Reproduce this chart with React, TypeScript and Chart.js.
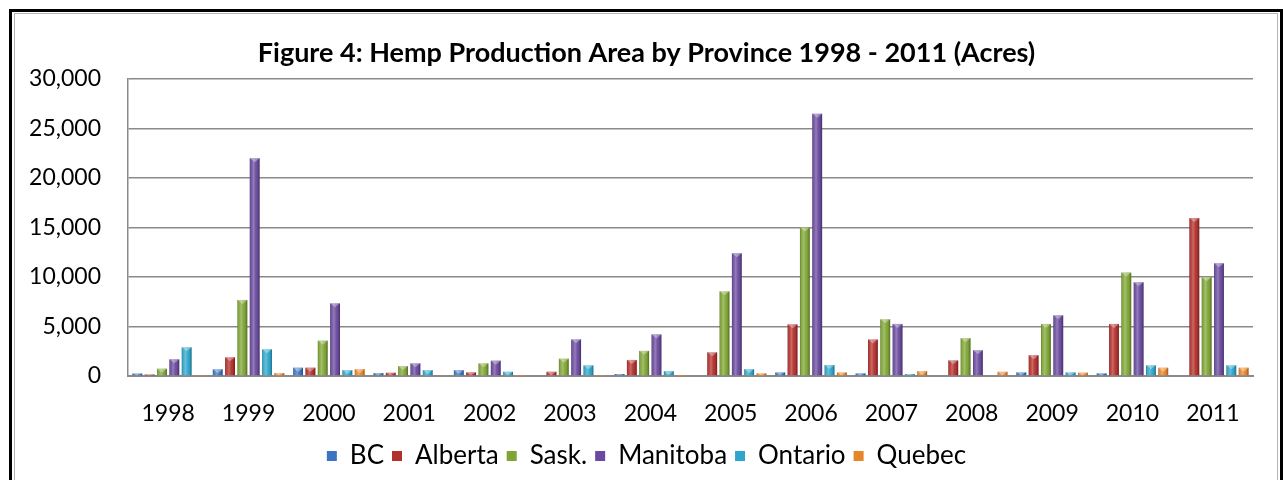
import React, { useEffect, useRef } from "react";
import { Chart, registerables } from "chart.js";

Chart.register(...registerables);

const years = ["1998", "1999", "2000", "2001", "2002", "2003", "2004", "2005", "2006", "2007", "2008", "2009", "2010", "2011"];
const provinces = ["BC", "Alberta", "Sask.", "Manitoba", "Ontario", "Quebec"];
const bc = [250, 680, 840, 300, 600, 0, 200, 0, 370, 270, 0, 370, 270, 0];
const alberta = [150, 1890, 840, 330, 370, 430, 1620, 2390, 5220, 3690, 1580, 2100, 5260, 15950];
const sask = [740, 7680, 3570, 1000, 1280, 1750, 2540, 8550, 15000, 5730, 3820, 5260, 10450, 9980];
const manitoba = [1690, 22000, 7340, 1280, 1550, 3700, 4200, 12400, 26500, 5260, 2600, 6130, 9480, 11390];
const ontario = [2900, 2700, 600, 600, 430, 1080, 500, 700, 1110, 200, 0, 370, 1080, 1080];
const quebec = [40, 300, 700, 50, 20, 20, 20, 270, 370, 500, 430, 340, 840, 840];
const seriesColors = ["#3a74c2", "#b3312d", "#7fa535", "#6a4a9e", "#2ea6cc", "#e8852a"];
const yTicks = [0, 5000, 10000, 15000, 20000, 25000, 30000];

const FONT = "Lato, 'Open Sans', sans-serif";

const bevelPlugin = {
  id: "bevel",
  afterDatasetsDraw(chart: any) {
    const ctx = chart.ctx;
    chart.data.datasets.forEach((_ds: any, i: number) => {
      const meta = chart.getDatasetMeta(i);
      if (meta.hidden) return;
      meta.data.forEach((bar: any) => {
        const { x, y, base, width } = bar.getProps(["x", "y", "base", "width"], true);
        const h = base - y;
        if (!(h > 0.5)) return;
        const l = x - width / 2;
        const r = x + width / 2;
        const g = ctx.createLinearGradient(l, 0, r, 0);
        g.addColorStop(0, "rgba(0,0,0,0.28)");
        g.addColorStop(0.18, "rgba(255,255,255,0.08)");
        g.addColorStop(0.38, "rgba(255,255,255,0.28)");
        g.addColorStop(0.62, "rgba(255,255,255,0.04)");
        g.addColorStop(0.85, "rgba(0,0,0,0.12)");
        g.addColorStop(1, "rgba(0,0,0,0.35)");
        ctx.save();
        ctx.fillStyle = g;
        ctx.fillRect(l, y, width, h);
        const capH = Math.min(4, h);
        ctx.fillStyle = "rgba(255,255,255,0.35)";
        ctx.beginPath();
        ctx.moveTo(l, y);
        ctx.lineTo(r, y);
        ctx.lineTo(x, y + capH);
        ctx.closePath();
        ctx.fill();
        ctx.restore();
      });
    });
  },
};

export default function App() {
  const canvasRef = useRef<HTMLCanvasElement | null>(null);

  useEffect(() => {
    let chart: Chart | null = null;
    let cancelled = false;
    const make = () => {
      if (cancelled || !canvasRef.current) return;
      const values = [bc, alberta, sask, manitoba, ontario, quebec];
      chart = new Chart(canvasRef.current, {
        type: "bar",
        data: {
          labels: years,
          datasets: provinces.map((p, i) => ({
            label: p,
            data: values[i],
            backgroundColor: seriesColors[i],
            borderWidth: 0,
            categoryPercentage: 0.92,
            barPercentage: 0.8,
            yAxisID: "y",
          })),
        },
        plugins: [bevelPlugin],
        options: {
          responsive: false,
          animation: false,
          layout: { padding: { left: 20, right: 10, top: 0, bottom: 1 } },
          plugins: {
            title: {
              display: true,
              text: "Figure 4: Hemp Production Area by Province 1998 - 2011 (Acres)",
              color: "#000",
              font: { family: FONT, size: 27, weight: "bold" },
              padding: { top: 37, bottom: 9.6 },
            },
            legend: {
              position: "bottom",
              labels: {
                color: "#000",
                font: { family: FONT, size: 26 },
                boxWidth: 10,
                boxHeight: 10,
                padding: 8,
              },
            },
            tooltip: { enabled: false },
          },
          scales: {
            x: {
              grid: { display: false, drawTicks: false },
              border: { display: true, color: "#8a8a8a", width: 2 },
              ticks: { color: "#000", font: { family: FONT, size: 23 }, padding: 24, maxRotation: 0 },
              afterFit(scale: any) {
                scale.height = 59;
              },
            },
            y: {
              min: 0,
              max: 30000,
              afterBuildTicks(scale: any) {
                scale.ticks = yTicks.map((v) => ({ value: v }));
              },
              grid: { color: "#8a8a8a", lineWidth: 1.5, drawTicks: false },
              border: { display: true, color: "#8a8a8a", width: 1.5 },
              ticks: {
                color: "#000",
                font: { family: FONT, size: 23 },
                padding: 27,
                callback: (v: any) => Number(v).toLocaleString("en-US"),
              },
              afterFit(scale: any) {
                scale.width = 108;
              },
            },
            yRight: {
              type: "linear",
              position: "right",
              display: true,
              grid: { display: false, drawTicks: false },
              border: { display: false },
              ticks: { display: false },
              afterFit(scale: any) {
                scale.width = 20;
              },
            },
          },
        },
      });
    };
    const fonts: any = (document as any).fonts;
    if (fonts && fonts.load) {
      Promise.all([fonts.load("23px Lato"), fonts.load("bold 23px Lato")]).then(make, make);
    } else {
      make();
    }
    return () => {
      cancelled = true;
      if (chart) chart.destroy();
    };
  }, []);

  return (
    <div style={{ position: "fixed", left: 0, top: 0, width: 1283, height: 480, background: "#fff", overflow: "hidden" }}>
      <div
        style={{
          position: "absolute",
          left: 9,
          top: 9,
          width: 1268,
          height: 480,
          borderLeft: "3px solid #000",
          borderTop: "3px solid #000",
          borderRight: "3px solid #000",
        }}
      />
      <div
        style={{
          position: "absolute",
          left: 14,
          top: 13,
          width: 1262,
          height: 480,
          borderLeft: "1px solid #b5b5b5",
          borderTop: "1px solid #b5b5b5",
          borderRight: "1px solid #b5b5b5",
        }}
      />
      <canvas ref={canvasRef} width={1283} height={480} style={{ position: "absolute", left: 0, top: 0, display: "block" }} />
    </div>
  );
}
